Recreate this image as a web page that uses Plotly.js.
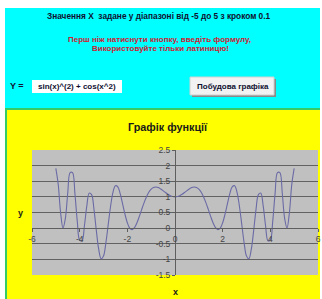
<!DOCTYPE html>
<html>
<head>
<meta charset="utf-8">
<script src="https://cdn.plot.ly/plotly-3.0.1.min.js"></script>
<style>html,body{margin:0;padding:0;background:#fff;overflow:hidden;}#chart{width:322px;height:299px;}</style>
</head>
<body>
<div id="chart"></div>
<script>
const xValues = [-5.0,-4.9,-4.8,-4.7,-4.6,-4.5,-4.4,-4.3,-4.2,-4.1,-4.0,-3.9,-3.8,-3.7,-3.6,-3.5,-3.4,-3.3,-3.2,-3.1,-3.0,-2.9,-2.8,-2.7,-2.6,-2.5,-2.4,-2.3,-2.2,-2.1,-2.0,-1.9,-1.8,-1.7,-1.6,-1.5,-1.4,-1.3,-1.2,-1.1,-1.0,-0.9,-0.8,-0.7,-0.6,-0.5,-0.4,-0.3,-0.2,-0.1,0.0,0.1,0.2,0.3,0.4,0.5,0.6,0.7,0.8,0.9,1.0,1.1,1.2,1.3,1.4,1.5,1.6,1.7,1.8,1.9,2.0,2.1,2.2,2.3,2.4,2.5,2.6,2.7,2.8,2.9,3.0,3.1,3.2,3.3,3.4,3.5,3.6,3.7,3.8,3.9,4.0,4.1,4.2,4.3,4.4,4.5,4.6,4.7,4.8,4.9,5.0];
const yValues = [1.9107,1.3985,0.4937,0.0047,0.3134,1.1252,1.7781,1.7754,1.1131,0.2178,-0.3849,-0.4055,0.0762,0.7132,1.1193,1.0734,0.6002,-0.0805,-0.6824,-0.9812,-0.8912,-0.4706,0.1262,0.7172,1.1542,1.3576,1.3225,1.1021,0.7809,0.4473,0.1732,0.0032,-0.0468,0.0149,0.1635,0.3668,0.5917,0.8095,0.9991,1.1465,1.2484,1.3031,1.3167,1.2974,1.2547,1.1988,1.1389,1.0833,1.0387,1.0099,1.0000,1.0099,1.0387,1.0833,1.1389,1.1988,1.2547,1.2974,1.3167,1.3031,1.2484,1.1465,0.9991,0.8095,0.5917,0.3668,0.1635,0.0149,-0.0468,0.0032,0.1732,0.4473,0.7809,1.1021,1.3225,1.3576,1.1542,0.7172,0.1262,-0.4706,-0.8912,-0.9812,-0.6824,-0.0805,0.6002,1.0734,1.1193,0.7132,0.0762,-0.4055,-0.3849,0.2178,1.1131,1.7754,1.7781,1.1252,0.3134,0.0047,0.4937,1.3985,1.9107];
const xTickValues = [-6,-4,-2,0,2,4,6];
const xTickLabels = ['-6','-4','-2','0','2','4','6'];
const yTickValues = [-1.5,-1,-0.5,0,0.5,1,1.5,2,2.5];
const yTickLabels = ['-1.5','-1','-0.5','0','0.5','1','1.5','2','2.5'];
const chartTitle = 'Графік функції';
const infoLine = 'Значення Х  задане у діапазоні від -5 до 5 з кроком 0.1';
const warnLine1 = 'Перш ніж натиснути кнопку, введіть формулу,';
const warnLine2 = 'Використовуйте тільки латиницю!';
const formulaLabel = 'Y =';
const formulaText = 'sin(x)^(2) + cos(x^2)';
const buttonText = 'Побудова графіка';

const W = 322, H = 299;
const px = v => v / W;
const py = v => 1 - v / H;
const xRange = [-6, 6], yRange = [-1.5, 2.5];
const xDom = [px(32), px(318)];
const yDom = [py(275), py(150)];
const xAxisPos = yDom[0] + (0 - yRange[0]) / (yRange[1] - yRange[0]) * (yDom[1] - yDom[0]);
const yAxisPos = xDom[0] + (0 - xRange[0]) / (xRange[1] - xRange[0]) * (xDom[1] - xDom[0]);
const FONT = 'Liberation Sans, Arial, sans-serif';

function rect(x0, y0, x1, y1, fill, line) {
  return {type: 'rect', xref: 'paper', yref: 'paper', x0: px(x0), x1: px(x1), y0: py(y1), y1: py(y0),
    fillcolor: fill, line: line || {width: 0}, layer: 'below'};
}
function note(text, x, y, size, color, bold) {
  return {text: text, xref: 'paper', yref: 'paper', x: px(x), y: py(y), xanchor: 'center', yanchor: 'middle',
    showarrow: false, font: {family: FONT, size: size, color: color, weight: bold ? 'bold' : 'normal'}};
}

const trace = {x: xValues, y: yValues, type: 'scatter', mode: 'lines',
  line: {color: '#6a6aa6', width: 1.1, shape: 'spline', smoothing: 1}, hoverinfo: 'skip'};

const layout = {
  width: W, height: H,
  margin: {l: 0, r: 0, t: 0, b: 0, pad: 0},
  paper_bgcolor: '#FFFF00', plot_bgcolor: '#C0C0C0',
  showlegend: false,
  xaxis: {domain: xDom, range: xRange, anchor: 'free', position: xAxisPos,
    tickvals: xTickValues, ticktext: xTickLabels, showgrid: false, zeroline: false,
    showline: true, linecolor: '#5e5e5e', linewidth: 1, ticks: 'outside', ticklen: 3, tickcolor: '#5e5e5e',
    tickfont: {family: FONT, size: 8.5, color: '#444'}, fixedrange: true},
  yaxis: {domain: yDom, range: yRange, anchor: 'free', position: yAxisPos,
    tickvals: yTickValues, ticktext: yTickLabels, showgrid: true, gridcolor: '#626262', gridwidth: 1.2,
    zeroline: false, showline: true, linecolor: '#5e5e5e', linewidth: 1, ticks: 'outside', ticklen: 3,
    tickcolor: '#5e5e5e', tickfont: {family: FONT, size: 8.5, color: '#444'}, fixedrange: true},
  shapes: [
    rect(0, 0, 322, 8, '#FFFFFF'),
    rect(0, 0, 5, 299, '#FFFFFF'),
    rect(320, 0, 322, 299, '#FFFFFF'),
    rect(5, 8, 320, 108, '#00FFFF'),
    rect(5, 108, 320, 110, '#33CC66'),
    rect(5, 108, 7, 299, '#33CC66'),
    rect(32, 80, 122, 93, '#FFFFFF'),
    rect(192, 79, 276, 97, '#8a8a8a'),
    rect(190, 77, 274, 95, '#F2F2F2', {color: '#d0d0d0', width: 1})
  ],
  annotations: [
    note(infoLine, 159, 16, 8.3, '#101030', true),
    note(warnLine1, 159, 39, 8, '#CC2233', true),
    note(warnLine2, 160, 48, 8, '#CC2233', true),
    note(formulaLabel, 17, 86, 9, '#101030', true),
    note(formulaText, 77, 86, 8, '#101030', true),
    note(buttonText, 233, 86, 8, '#101030', true),
    note(chartTitle, 168, 127, 10.8, '#1a1a1a', true),
    note('y', 20, 213, 9, '#1a1a1a', true),
    note('x', 175, 292, 9, '#1a1a1a', true)
  ]
};

Plotly.newPlot('chart', [trace], layout, {displayModeBar: false, staticPlot: true});
</script>
</body>
</html>
